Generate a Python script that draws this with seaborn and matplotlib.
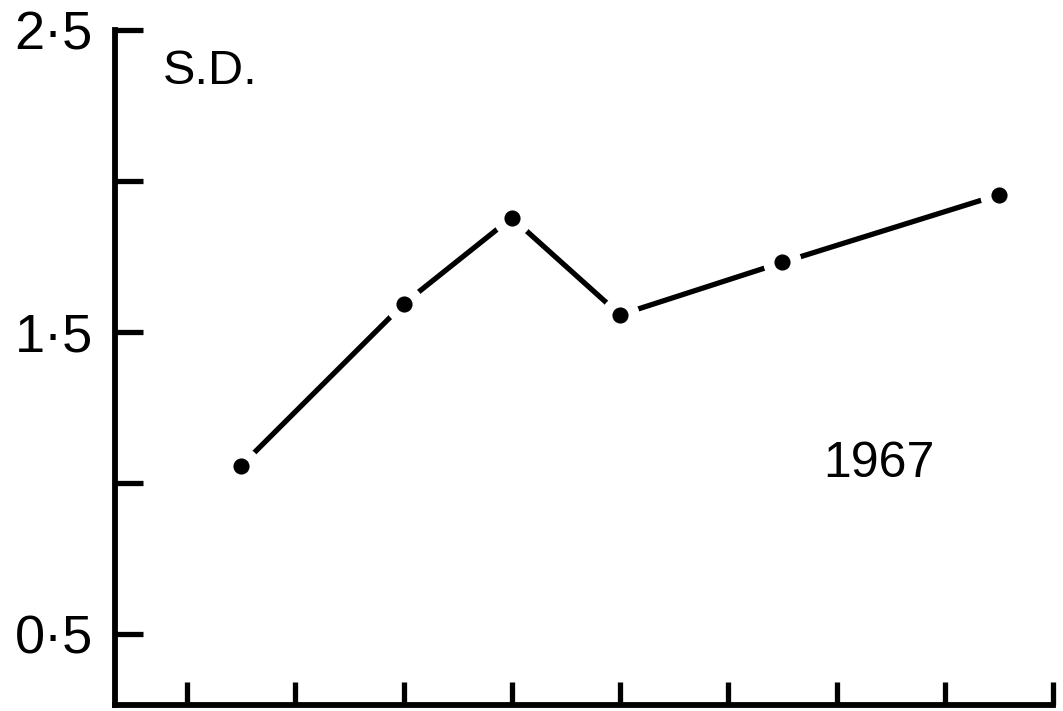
import matplotlib
matplotlib.use("Agg")
import matplotlib.pyplot as plt
import seaborn as sns
import pandas as pd

# Standard deviation by sampling position, 1967
positions = [1.5, 3.0, 4.0, 5.0, 6.5, 8.5]
sd_values = [1.056, 1.592, 1.878, 1.556, 1.730, 1.954]

y_ticks = [0.5, 1.0, 1.5, 2.0, 2.5]
y_tick_labels = ["0·5", "", "1·5", "", "2·5"]
x_ticks = [1, 2, 3, 4, 5, 6, 7, 8, 9]

sns.set_style("white")
plt.rcParams["font.family"] = ["Liberation Sans", "DejaVu Sans"]

df = pd.DataFrame({"position": positions, "sd": sd_values})

fig = plt.figure(figsize=(10.63, 7.11), dpi=100)
ax = fig.add_axes([0.1082, 0.0084, 0.8824, 0.9494])

# connecting line
sns.lineplot(data=df, x="position", y="sd", ax=ax,
             color="black", linewidth=3.8, zorder=2)
# white halo leaves a gap in the line around each point
sns.scatterplot(data=df, x="position", y="sd", ax=ax,
                color="white", s=760, linewidth=0, zorder=3)
# solid data points
sns.scatterplot(data=df, x="position", y="sd", ax=ax,
                color="black", s=135, linewidth=0, zorder=4)

ax.set_xlim(0.335, 9.0)
ax.set_ylim(0.263, 2.5)

ax.set_yticks(y_ticks)
ax.set_yticklabels(y_tick_labels)
ax.set_xticks(x_ticks)
ax.set_xticklabels([])
ax.set_xlabel("")
ax.set_ylabel("")

ax.tick_params(axis="y", left=True, direction="in", length=20, width=3.8,
               color="black", labelsize=39, pad=16, labelcolor="black")
ax.tick_params(axis="x", bottom=True, direction="in", length=16.5, width=3.8,
               color="black")

for side in ("top", "right"):
    ax.spines[side].set_visible(False)
for side in ("left", "bottom"):
    ax.spines[side].set_linewidth(4.2)
    ax.spines[side].set_color("black")
    ax.spines[side].set_capstyle("projecting")

ax.text(0.051, 0.938, "S.D.", transform=ax.transAxes, fontsize=35,
        ha="left", va="center", color="black")
ax.text(0.8145, 0.357, "1967", transform=ax.transAxes, fontsize=36,
        ha="center", va="center", color="black")

fig.savefig("out.png", dpi=100, facecolor="white")
